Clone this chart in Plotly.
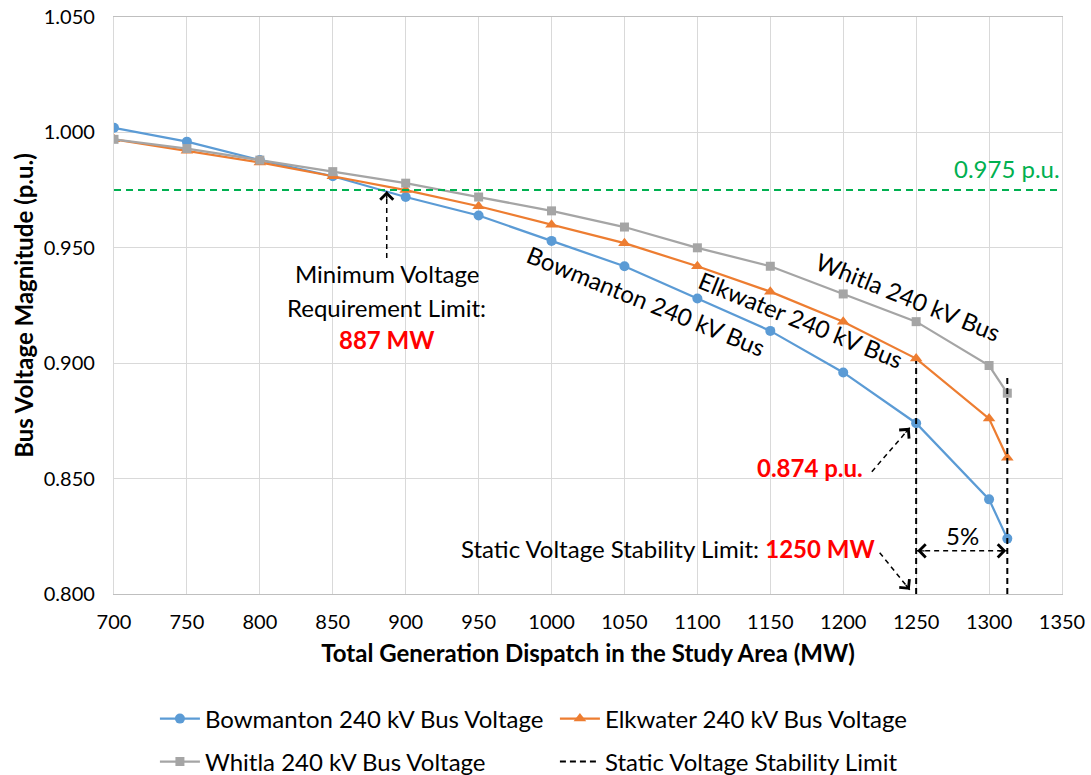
import plotly.graph_objects as go

# ---------------- data ----------------
mw = [700, 750, 800, 850, 900, 950, 1000, 1050, 1100, 1150, 1200, 1250, 1300, 1312.5]
bowmanton = [1.002, 0.996, 0.988, 0.981, 0.972, 0.964, 0.953, 0.942, 0.928, 0.914, 0.896, 0.874, 0.841, 0.824]
elkwater = [0.997, 0.992, 0.987, 0.981, 0.975, 0.968, 0.960, 0.952, 0.942, 0.931, 0.918, 0.902, 0.876, 0.859]
whitla = [0.997, 0.993, 0.988, 0.983, 0.978, 0.972, 0.966, 0.959, 0.950, 0.942, 0.930, 0.918, 0.899, 0.887]

limit_x = [1250, 1250, None, 1312.5, 1312.5]
limit_y = [0.800, 0.901, None, 0.800, 0.895]

min_voltage = 0.975
min_voltage_mw = 887
ssl_mw = 1250
ssl_5pct_mw = 1312.5
ssl_voltage = 0.874

x_ticks = list(range(700, 1351, 50))
y_ticks = [0.800, 0.850, 0.900, 0.950, 1.000, 1.050]

FONT = "Lato"
BLUE, ORANGE, GRAY, GREEN = "#5B9BD5", "#ED7D31", "#A5A5A5", "#00B050"
AFS = 24  # annotation font size

fig = go.Figure()
fig.add_trace(go.Scatter(x=mw, y=bowmanton, name="Bowmanton 240 kV Bus Voltage", mode="lines+markers",
                         line=dict(color=BLUE, width=2.25), marker=dict(symbol="circle", size=10, color=BLUE),
                         legend="legend"))
fig.add_trace(go.Scatter(x=mw, y=elkwater, name="Elkwater 240 kV Bus Voltage", mode="lines+markers",
                         line=dict(color=ORANGE, width=2.25), marker=dict(symbol="triangle-up", size=11, color=ORANGE),
                         legend="legend"))
fig.add_trace(go.Scatter(x=mw, y=whitla, name="Whitla 240 kV Bus Voltage", mode="lines+markers",
                         line=dict(color=GRAY, width=2.25), marker=dict(symbol="square", size=9, color=GRAY),
                         legend="legend2"))
fig.add_trace(go.Scatter(x=limit_x, y=limit_y, name="Static Voltage Stability Limit", mode="lines",
                         line=dict(color="black", width=2, dash="6px,4px"), legend="legend2"))
fig.add_trace(go.Scatter(x=[700, 1350], y=[min_voltage, min_voltage], mode="lines", showlegend=False,
                         line=dict(color=GREEN, width=2, dash="7px,5px"), hoverinfo="skip"))

# dashed arrow shafts
dash_line = dict(color="black", width=1.5, dash="5px,4px")
shapes = [
    dict(type="line", x0=min_voltage_mw, y0=0.9456, x1=min_voltage_mw, y1=0.9745, line=dash_line),
    dict(type="line", x0=1219.6, y0=0.8530, x1=1245.6, y1=0.8720, line=dash_line),
    dict(type="line", x0=1225.0, y0=0.8179, x1=1245.6, y1=0.8018, line=dash_line),
    dict(type="line", x0=ssl_mw, y0=0.8187, x1=ssl_5pct_mw, y1=0.8187, line=dash_line),
]
for s in shapes:
    s.update(xref="x", yref="y")
fig.update_layout(shapes=shapes)

def head(x, y, ax, ay):
    return dict(x=x, y=y, xref="x", yref="y", ax=ax, ay=ay, text="", showarrow=True,
                arrowhead=4, arrowsize=1.8, arrowwidth=1.4, arrowcolor="black", standoff=0)

annotations = [
    head(min_voltage_mw, 0.9745, 0, 9),
    head(1245.6, 0.8720, -5.5, 6.3),
    head(1245.6, 0.8018, -5.2, -6.4),
    head(ssl_mw + 0.7, 0.8187, 9, 0),
    head(ssl_5pct_mw - 0.7, 0.8187, -9, 0),
]

def tf(color="black"):
    return dict(family=FONT, size=AFS, color=color)

txt = dict(xref="x", yref="y", showarrow=False)
annotations += [
    dict(x=min_voltage_mw, y=0.9389, text="Minimum Voltage", font=tf(), **txt),
    dict(x=min_voltage_mw, y=0.9242, text="Requirement Limit:", font=tf(), **txt),
    dict(x=min_voltage_mw, y=0.9101, text="<b>887 MW</b>", font=tf("red"), **txt),
    dict(x=1064.6, y=0.927, text="Bowmanton 240 kV Bus", textangle=22, font=tf(), **txt),
    dict(x=1170.9, y=0.9188, text="Elkwater 240 kV Bus", textangle=22, font=tf(), **txt),
    dict(x=1244.3, y=0.9287, text="Whitla 240 kV Bus", textangle=22, font=tf(), **txt),
    dict(x=1214.8, y=0.855, text="<b>0.874 p.u.</b>", xanchor="right", font=tf("red"), **txt),
    dict(x=1223, y=0.8199, xanchor="right",
         text="Static Voltage Stability Limit: <b><span style='color:red'>1250 MW</span></b>", font=tf(), **txt),
    dict(x=1282, y=0.8255, text="5%", font=tf(), **txt),
    dict(x=1350, y=0.9845, xanchor="right", text="0.975 p.u.", font=tf(GREEN), **txt),
]
fig.update_layout(annotations=annotations)

leg_common = dict(orientation="h", xref="container", yref="container", x=0.142,
                  xanchor="left", yanchor="middle", entrywidth=345, entrywidthmode="pixels",
                  font=dict(family=FONT, size=24), itemwidth=40, bgcolor="rgba(0,0,0,0)")

fig.update_layout(
    width=1091, height=775,
    margin=dict(l=114, r=29, t=17, b=181),
    paper_bgcolor="white", plot_bgcolor="white",
    font=dict(family=FONT, size=20, color="black"),
    xaxis=dict(range=[700, 1350], tickvals=x_ticks, showgrid=True, gridcolor="#D9D9D9", gridwidth=1.3,
               showline=True, linecolor="#BFBFBF", linewidth=1.3, mirror=True, zeroline=False,
               ticks="outside", ticklen=10, tickcolor="rgba(0,0,0,0)", automargin=False,
               tickfont=dict(family=FONT, size=20),
               title=dict(text="<b>Total Generation Dispatch in the Study Area (MW)</b>",
                          font=dict(family=FONT, size=24), standoff=13)),
    yaxis=dict(range=[0.800, 1.050], tickvals=y_ticks, tickformat=".3f", showgrid=True, gridcolor="#D9D9D9",
               gridwidth=1.3, showline=True, linecolor="#D9D9D9", linewidth=1.3, mirror=True, zeroline=False,
               ticks="outside", ticklen=14, tickcolor="rgba(0,0,0,0)", automargin=False,
               tickfont=dict(family=FONT, size=20),
               title=dict(text="<b>Bus Voltage Magnitude (p.u.)</b>", font=dict(family=FONT, size=24), standoff=3)),
    legend=dict(y=1 - 719 / 775, **leg_common),
    legend2=dict(y=1 - 762 / 775, **leg_common),
    showlegend=True,
)

fig.write_html("out.html")
